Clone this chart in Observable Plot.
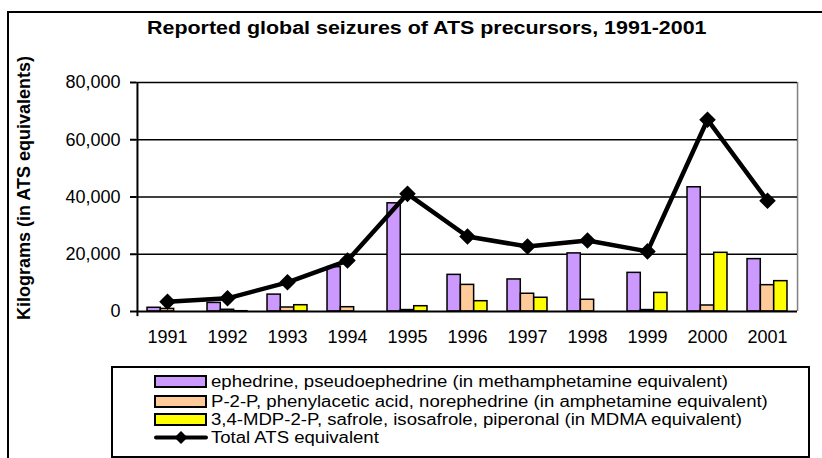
<!DOCTYPE html>
<html>
<head>
<meta charset="utf-8">
<script src="https://cdn.jsdelivr.net/npm/d3@7"></script>
<script src="https://cdn.jsdelivr.net/npm/@observablehq/plot@0.6"></script>
<style>
  html, body { margin: 0; padding: 0; background: #fff; }
  #wrap { position: relative; width: 822px; height: 458px; overflow: hidden; font-family: "Liberation Sans", Arial, sans-serif; }
  #frame { position: absolute; left: 7px; top: 11px; width: 900px; height: 600px; border: 2px solid #000; box-sizing: border-box; }
  #title { position: absolute; left: 147px; top: 18px; white-space: nowrap; font-weight: bold; font-size: 18px; color: #000; transform: scaleX(1.19); transform-origin: 0 0; }
  #chart { position: absolute; left: 0; top: 0; }
  #legend { position: absolute; left: 111px; top: 366px; width: 699px; height: 92px; border: 2px solid #000; box-sizing: border-box; background: #fff; }
  .item { position: absolute; left: 41px; height: 19px; font-size: 16px; line-height: 19px; white-space: nowrap; }
  .item svg { position: absolute; left: 0; top: 3px; }
  .item span { position: absolute; left: 57px; top: 0; transform: scaleX(1.16); transform-origin: 0 0; }
</style>
</head>
<body>
<div id="wrap">
  <div id="frame"></div>
  <div id="title">Reported global seizures of ATS precursors, 1991-2001</div>
  <div id="chart"></div>
  <div id="legend"></div>
</div>
<script>
const years = ["1991","1992","1993","1994","1995","1996","1997","1998","1999","2000","2001"];
const ephedrine = [1300, 3000, 5900, 15500, 37800, 12800, 11200, 20300, 13500, 43400, 18300];
const p2p       = [900, 600, 1400, 1500, 500, 9300, 6200, 4100, 500, 2100, 9200];
const mdp2p     = [0, 100, 2200, 0, 1850, 3600, 4800, 0, 6500, 20500, 10600];
const total     = [3400, 4600, 10200, 17800, 41100, 26200, 22700, 24800, 21000, 67000, 38700];
const seriesNames = [
  "ephedrine, pseudoephedrine (in methamphetamine equivalent)",
  "P-2-P, phenylacetic acid, norephedrine (in amphetamine equivalent)",
  "3,4-MDP-2-P, safrole, isosafrole, piperonal (in MDMA equivalent)",
  "Total ATS equivalent"
];
const seriesColors = ["#CC99FF", "#FFCC99", "#FFFF00"];
const yTicks = [0, 20000, 40000, 60000, 80000];
const yLabel = "Kilograms (in ATS equivalents)";

const W = 822, H = 458, mL = 136, mR = 25, mT = 82, mB = 147;
const bw = (W - mL - mR) / years.length;
const groupW = bw * 2 / 3;
const barW = groupW / 3;
const seriesData = [ephedrine, p2p, mdp2p];

const barMarks = seriesData.map((vals, i) => {
  const left = (bw - groupW) / 2 + i * barW;
  return Plot.barY(years.map((y, j) => ({year: y, v: vals[j]})), {
    x: "year", y: "v", fill: seriesColors[i], stroke: "#000", strokeWidth: 1.5,
    insetLeft: left, insetRight: bw - left - barW
  });
});
const totalData = years.map((y, j) => ({year: y, v: total[j]}));

const chart = Plot.plot({
  width: W, height: H,
  marginLeft: mL, marginRight: mR, marginTop: mT, marginBottom: mB,
  style: {fontFamily: "Liberation Sans, Arial, sans-serif", fontSize: "17px", color: "#000", background: "transparent", overflow: "visible"},
  x: {domain: years, padding: 0, label: null},
  y: {domain: [0, 80000], label: null},
  marks: [
    Plot.ruleX([years[years.length - 1]], {dx: bw / 2, y1: 0, y2: 80000, stroke: "#808080", strokeWidth: 1.5}),
    Plot.ruleY(yTicks.slice(1), {stroke: "#000", strokeWidth: 1.5}),
    ...barMarks,
    Plot.ruleY([0], {stroke: "#000", strokeWidth: 2}),
    Plot.ruleX([years[0]], {dx: -bw / 2, y1: -1800, y2: 80000, stroke: "#000", strokeWidth: 2}),
    Plot.axisY({ticks: yTicks, tickFormat: d3.format(","), tickSize: 6, tickPadding: 10, fontSize: 18, label: null, strokeWidth: 2}),
    Plot.axisX({tickSize: 0, tickPadding: 19, fontSize: 18, label: null}),
    Plot.lineY(totalData, {x: "year", y: "v", stroke: "#000", strokeWidth: 4.5}),
    Plot.dot(totalData, {x: "year", y: "v", symbol: "diamond2", fill: "#000", stroke: "#000", r: 6.5}),
    Plot.text([yLabel], {frameAnchor: "left", textAnchor: "middle", dx: -112, dy: -9, rotate: -90, fontWeight: "bold", fontSize: 18, text: d => d})
  ]
});
document.getElementById("chart").appendChild(chart);

// legend
const legend = document.getElementById("legend");
const tops = [4, 24, 42, 60];
seriesNames.forEach((name, i) => {
  const div = document.createElement("div");
  div.className = "item";
  div.style.top = tops[i] + "px";
  let sw;
  if (i < 3) {
    sw = `<svg width="54" height="13"><rect x="1" y="1" width="51" height="11" fill="${seriesColors[i]}" stroke="#000" stroke-width="2"/></svg>`;
  } else {
    sw = `<svg width="54" height="13"><line x1="2" y1="6.5" x2="52" y2="6.5" stroke="#000" stroke-width="4" stroke-linecap="round"/><path d="M27 0 L33.5 6.5 L27 13 L20.5 6.5 Z" fill="#000"/></svg>`;
  }
  div.innerHTML = sw + `<span>${name}</span>`;
  legend.appendChild(div);
});
</script>
</body>
</html>
